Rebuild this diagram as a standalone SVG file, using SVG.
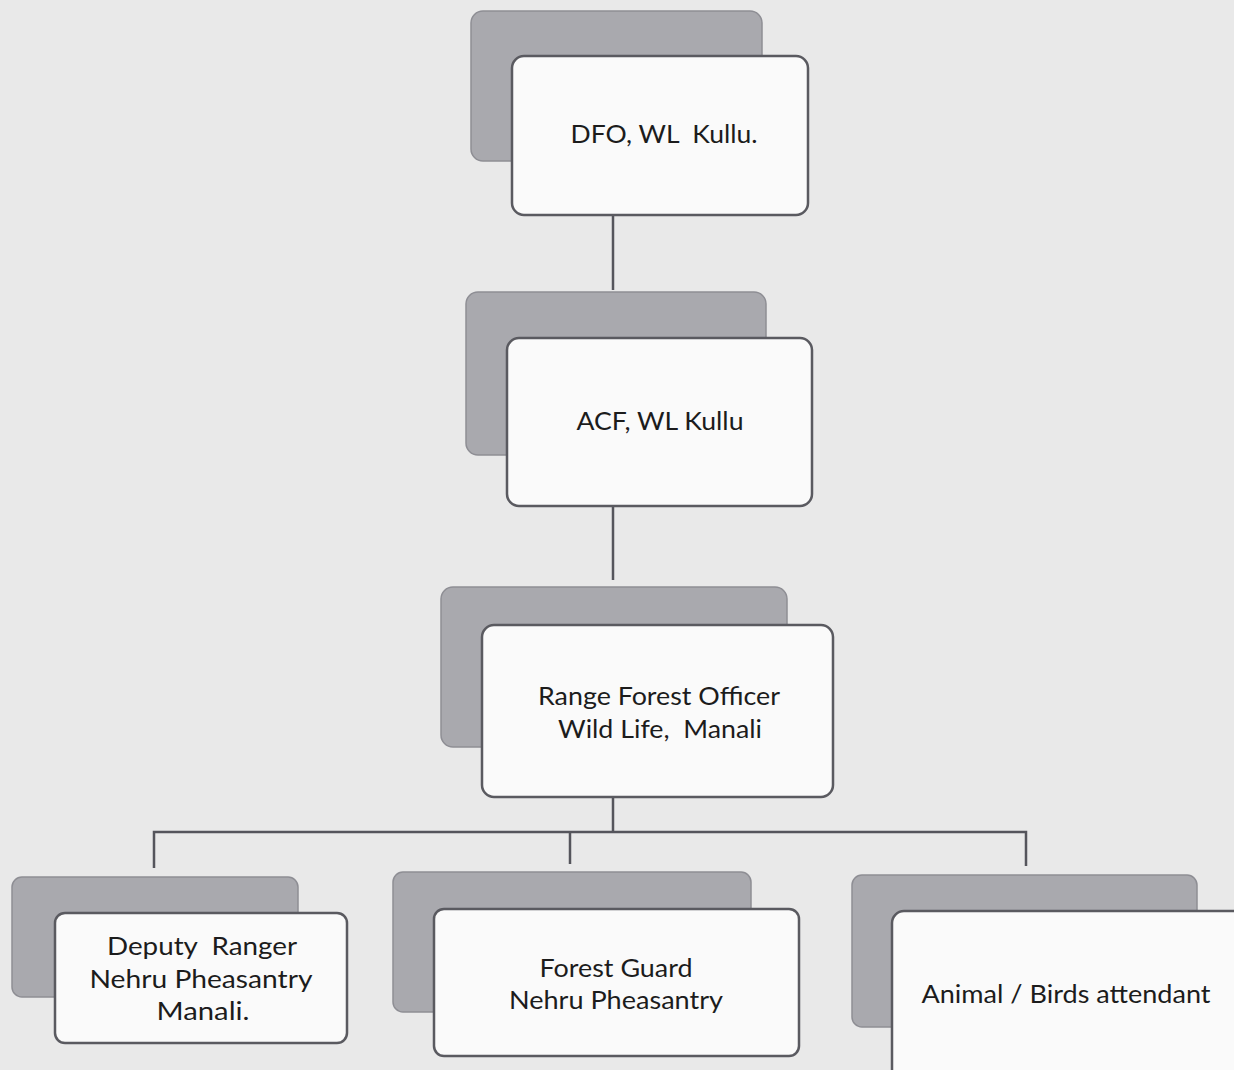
<svg xmlns="http://www.w3.org/2000/svg" width="1234" height="1070" viewBox="0 0 1234 1070">
<style>
.bg{fill:#e9e9e9}
.sh{fill:#a9a9ae;stroke:#8e8e94;stroke-width:1.5}
.fr{fill:#fafafa;stroke:#5a5a60;stroke-width:2.5}
.t{font-family:"Lato","Liberation Sans",sans-serif;font-size:25px;fill:#1c1c1c;text-anchor:middle;white-space:pre}
.c{fill:none;stroke:#55555c;stroke-width:2.5}
</style>
<rect class="bg" x="0" y="0" width="1234" height="1070"/>
<g id="connectors">
<path class="c" d="M613 216V290"/>
<path class="c" d="M613 506V580"/>
<path class="c" d="M613 797V831"/>
<path class="c" d="M154 868V832H1026V866"/>
<path class="c" d="M570 832V864"/>
</g>
<g id="dfo">
<rect class="sh" x="471" y="11" width="291" height="150" rx="12"/>
<rect class="fr" x="512" y="56" width="296" height="159" rx="12"/>
<text class="t" x="664" y="143" textLength="187" lengthAdjust="spacingAndGlyphs" xml:space="preserve">DFO, WL  Kullu.</text>
</g>
<g id="acf">
<rect class="sh" x="466" y="292" width="300" height="163" rx="12"/>
<rect class="fr" x="507" y="338" width="305" height="168" rx="12"/>
<text class="t" x="660" y="430" textLength="167" lengthAdjust="spacingAndGlyphs">ACF, WL Kullu</text>
</g>
<g id="rfo">
<rect class="sh" x="441" y="587" width="346" height="160" rx="12"/>
<rect class="fr" x="482" y="625" width="351" height="172" rx="12"/>
<text class="t" x="659" y="705" textLength="242" lengthAdjust="spacingAndGlyphs">Range Forest Officer</text>
<text class="t" x="660" y="738" textLength="204" lengthAdjust="spacingAndGlyphs" xml:space="preserve">Wild Life,  Manali</text>
</g>
<g id="deputy">
<rect class="sh" x="12" y="877" width="286" height="120" rx="10"/>
<rect class="fr" x="55" y="913" width="292" height="130" rx="10"/>
<text class="t" x="202" y="955" textLength="190" lengthAdjust="spacingAndGlyphs" xml:space="preserve">Deputy  Ranger</text>
<text class="t" x="201" y="988" textLength="223" lengthAdjust="spacingAndGlyphs">Nehru Pheasantry</text>
<text class="t" x="203" y="1020" textLength="93" lengthAdjust="spacingAndGlyphs">Manali.</text>
</g>
<g id="guard">
<rect class="sh" x="393" y="872" width="358" height="140" rx="10"/>
<rect class="fr" x="434" y="909" width="365" height="147" rx="10"/>
<text class="t" x="616" y="977" textLength="153" lengthAdjust="spacingAndGlyphs">Forest Guard</text>
<text class="t" x="616" y="1009" textLength="214" lengthAdjust="spacingAndGlyphs">Nehru Pheasantry</text>
</g>
<g id="attendant">
<rect class="sh" x="852" y="875" width="345" height="152" rx="10"/>
<rect class="fr" x="892" y="911" width="360" height="175" rx="12"/>
<text class="t" x="1066" y="1003" textLength="289" lengthAdjust="spacingAndGlyphs">Animal / Birds attendant</text>
</g>
</svg>
